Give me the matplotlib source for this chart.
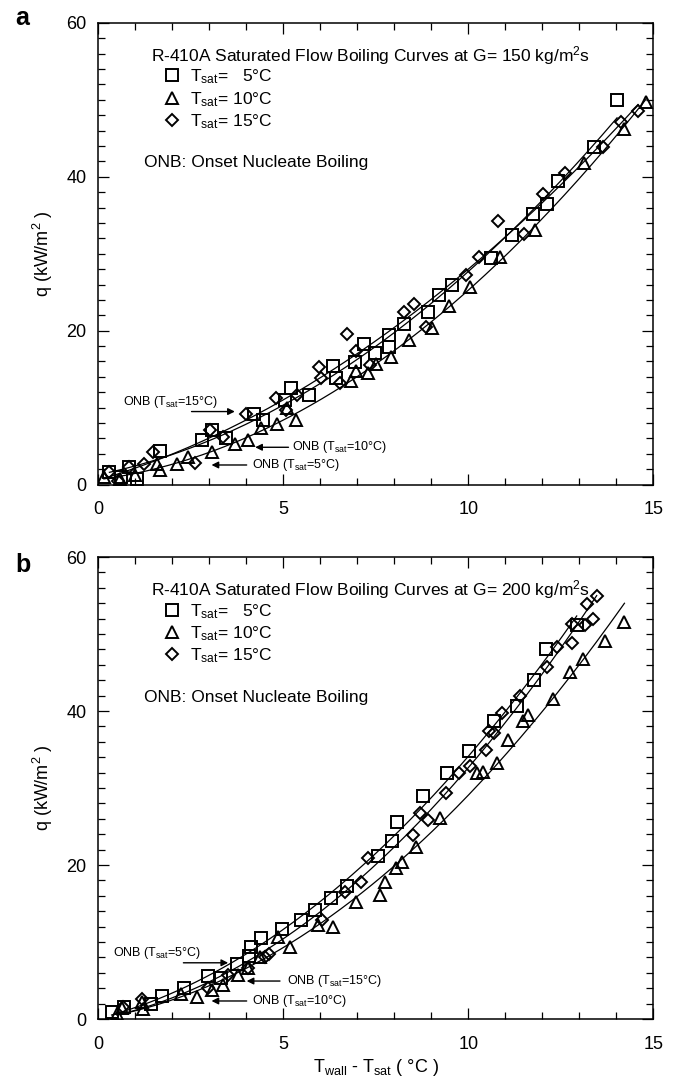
import numpy as np
import matplotlib
matplotlib.use("Agg")
import matplotlib.pyplot as plt
from matplotlib.ticker import MultipleLocator

plt.rcParams['font.family'] = ['Liberation Sans', 'DejaVu Sans']
plt.rcParams['mathtext.fontset'] = 'custom'
plt.rcParams['mathtext.rm'] = 'Liberation Sans'
plt.rcParams['mathtext.it'] = 'Liberation Sans:italic'
plt.rcParams['mathtext.bf'] = 'Liberation Sans:bold'

# ---------------- G = 150 kg/m2s ----------------
a_dt5 = [0.3, 0.6, 0.84, 1.04, 1.68, 2.79, 3.06, 3.46, 4.2, 4.46, 5.05, 5.2, 5.69,
         6.33, 6.42, 6.94, 7.18, 7.47, 7.87, 7.87, 8.27, 8.91, 9.2, 9.56, 10.61,
         11.18, 11.75, 12.14, 12.42, 13.41, 14.02]
a_q5 = [1.6, 1.0, 2.3, 0.8, 4.4, 5.8, 7.1, 6.1, 9.2, 8.4, 11.0, 12.6, 11.6,
        15.4, 13.8, 15.9, 18.3, 17.1, 17.9, 19.4, 20.9, 22.4, 24.6, 26.0, 29.4,
        32.4, 35.2, 36.4, 39.4, 43.8, 50.0]

a_dt10 = [0.15, 0.59, 1.0, 1.58, 1.66, 2.12, 2.42, 3.06, 3.7, 4.05, 4.39, 4.82,
          5.1, 5.33, 6.84, 6.96, 7.3, 7.5, 7.9, 8.41, 9.03, 9.48, 10.05, 10.86,
          11.8, 13.13, 14.22, 14.81]
a_q10 = [1.0, 0.8, 1.2, 2.7, 1.9, 2.7, 3.6, 4.2, 5.3, 5.8, 7.3, 7.9,
         10.0, 8.4, 13.5, 14.8, 14.5, 15.7, 16.6, 18.8, 20.3, 23.2, 25.7, 29.6,
         33.1, 41.8, 46.2, 49.7]

a_dt15 = [0.28, 0.54, 0.84, 1.23, 1.48, 2.62, 3.01, 3.36, 4.0, 4.79, 5.08, 5.38,
          5.97, 6.02, 6.52, 6.71, 6.96, 7.35, 8.27, 8.54, 8.85, 9.95, 10.3, 10.81,
          11.5, 12.02, 12.62, 13.65, 14.12, 14.59]
a_q15 = [1.6, 0.5, 2.3, 2.7, 4.2, 2.8, 7.1, 6.2, 9.2, 11.2, 9.7, 11.6,
         15.3, 13.8, 13.2, 19.6, 17.4, 15.5, 22.4, 23.5, 20.5, 27.2, 29.6, 34.3,
         32.5, 37.8, 40.5, 43.9, 47.1, 48.5]

# ---------------- G = 200 kg/m2s ----------------
b_dt5 = [0.36, 0.70, 1.42, 1.71, 2.32, 2.97, 3.32, 3.74, 4.08, 4.13, 4.39, 4.97,
         5.48, 5.86, 6.28, 6.71, 7.55, 7.93, 8.08, 8.77, 9.42, 10.03, 10.70,
         11.31, 11.78, 12.09, 12.93]
b_q5 = [0.95, 1.6, 2.0, 3.0, 4.0, 5.6, 5.3, 7.2, 8.2, 9.4, 10.5, 11.7,
        12.9, 14.1, 15.7, 17.3, 21.2, 23.1, 25.6, 29.0, 32.0, 34.8, 38.7,
        40.6, 44.0, 48.0, 51.2]

b_dt10 = [0.5, 0.63, 1.17, 1.22, 2.24, 2.66, 3.08, 3.38, 3.77, 4.05, 4.37, 4.85,
          5.18, 5.95, 6.35, 6.96, 7.61, 7.75, 8.05, 8.20, 8.59, 9.24, 10.23,
          10.41, 10.77, 11.08, 11.47, 11.62, 12.30, 12.75, 13.11, 13.70, 14.22]
b_q10 = [0.7, 1.4, 2.2, 1.3, 3.2, 2.9, 3.8, 4.4, 5.7, 6.6, 8.0, 10.6,
         9.3, 12.2, 11.9, 15.2, 16.1, 17.8, 19.6, 20.4, 22.4, 26.1, 31.9,
         32.1, 33.2, 36.2, 38.7, 39.5, 41.6, 45.1, 46.7, 49.1, 51.5]

b_dt15 = [0.68, 1.17, 2.97, 3.51, 4.05, 4.51, 4.6, 6.04, 6.67, 7.09, 7.28, 8.50,
          8.69, 8.90, 9.40, 9.76, 10.05, 10.48, 10.57, 10.70, 10.90, 11.40,
          12.14, 12.39, 12.79, 12.79, 13.15, 13.38, 13.20, 13.47]
b_q15 = [1.6, 2.6, 4.0, 5.7, 6.6, 8.1, 8.4, 12.8, 16.5, 17.8, 20.9, 23.9,
         26.7, 25.9, 29.4, 31.9, 32.8, 34.9, 37.4, 37.1, 39.7, 41.9,
         45.7, 48.3, 48.8, 51.3, 51.2, 52.0, 53.9, 54.9]

legend_labels = [r'$\mathregular{T_{sat}}$=   5°C',
                 r'$\mathregular{T_{sat}}$= 10°C',
                 r'$\mathregular{T_{sat}}$= 15°C']
markers = ['s', '^', 'D']
marker_sizes = [8.0, 8.4, 6.2]

panels = [
    dict(letter='a', G='150', letter_y=25.0,
         series=[(a_dt5, a_q5), (a_dt10, a_q10), (a_dt15, a_q15)],
         # (label, text x, text y, arrow start x, arrow end x, arrow y)
         onb=[('15', 0.66, 10.7, 2.52, 3.69, 9.5),
              ('10', 5.23, 4.86, 5.14, 4.24, 4.86),
              ('5', 4.15, 2.56, 4.01, 3.06, 2.56)]),
    dict(letter='b', G='200', letter_y=572.0,
         series=[(b_dt5, b_q5), (b_dt10, b_q10), (b_dt15, b_q15)],
         onb=[('5', 0.40, 8.6, 2.30, 3.51, 7.3),
              ('15', 5.09, 4.93, 4.91, 4.01, 4.93),
              ('10', 4.15, 2.34, 4.01, 3.06, 2.34)]),
]

W, H = 676, 1077
fig = plt.figure(figsize=(W / 100, H / 100), dpi=100)

left_px, right_px = 98.3, 653.3
tops = [22.7, 557.0]
height_px = 462.0

TXT = 12.5
for p, top in zip(panels, tops):
    ax = fig.add_axes([left_px / W, 1 - (top + height_px) / H,
                       (right_px - left_px) / W, height_px / H])
    ax.set_xlim(0, 15)
    ax.set_ylim(0, 60)
    ax.xaxis.set_major_locator(MultipleLocator(5))
    ax.xaxis.set_minor_locator(MultipleLocator(1))
    ax.yaxis.set_major_locator(MultipleLocator(20))
    ax.yaxis.set_minor_locator(MultipleLocator(2))
    ax.tick_params(which='both', direction='in', top=True, right=True,
                   width=0.9, labelsize=13)
    ax.tick_params(which='major', length=8)
    ax.tick_params(which='minor', length=5)
    ax.tick_params(axis='x', pad=12)
    ax.tick_params(axis='y', pad=8.5)
    for s in ax.spines.values():
        s.set_linewidth(1.1)

    handles = []
    for (dt, q), m, ms, lab in zip(p['series'], markers, marker_sizes, legend_labels):
        dt = np.asarray(dt)
        q = np.asarray(q)
        h, = ax.plot(dt, q, linestyle='none', marker=m, ms=ms, mfc='none',
                     mec='black', mew=1.4, label=lab)
        handles.append(h)
        coef = np.polyfit(dt, q, 2)
        xf = np.linspace(dt.min(), dt.max(), 200)
        ax.plot(xf, np.polyval(coef, xf), color='black', lw=0.9)

    ax.text(1.43, 55.0, 'R-410A Saturated Flow Boiling Curves at G= ' + p['G'] +
            r' kg/m$\mathregular{^2}$s', fontsize=TXT, ha='left', va='baseline')
    ax.legend(handles=handles, loc='upper left', bbox_to_anchor=(0.121, 0.903),
              frameon=False, fontsize=TXT, handlelength=0.8, handletextpad=0.6,
              labelspacing=0.21, borderpad=0, borderaxespad=0)
    ax.text(1.23, 41.2, 'ONB: Onset Nucleate Boiling', fontsize=TXT,
            ha='left', va='baseline')

    for lab, tx, ty, ax0, ax1, ay in p['onb']:
        ax.text(tx, ty, r'ONB ($\mathregular{T_{sat}}$=' + lab + '°C)',
                fontsize=9, ha='left', va='center')
        ax.annotate('', xy=(ax1, ay), xytext=(ax0, ay),
                    arrowprops=dict(arrowstyle='-|>', color='black', lw=1.0,
                                    mutation_scale=10, shrinkA=0, shrinkB=0))

    ax.set_ylabel(r'q (kW/m$\mathregular{^2}$ )', fontsize=13, labelpad=8)
    fig.text(15 / W, 1 - p['letter_y'] / H, p['letter'], fontsize=18,
             fontweight='bold', ha='left', va='baseline')
    if p['letter'] == 'b':
        ax.set_xlabel(r'$\mathregular{T_{wall}}$ - $\mathregular{T_{sat}}$ ( °C )',
                      fontsize=13, labelpad=3)

fig.savefig('out.png', dpi=100)
